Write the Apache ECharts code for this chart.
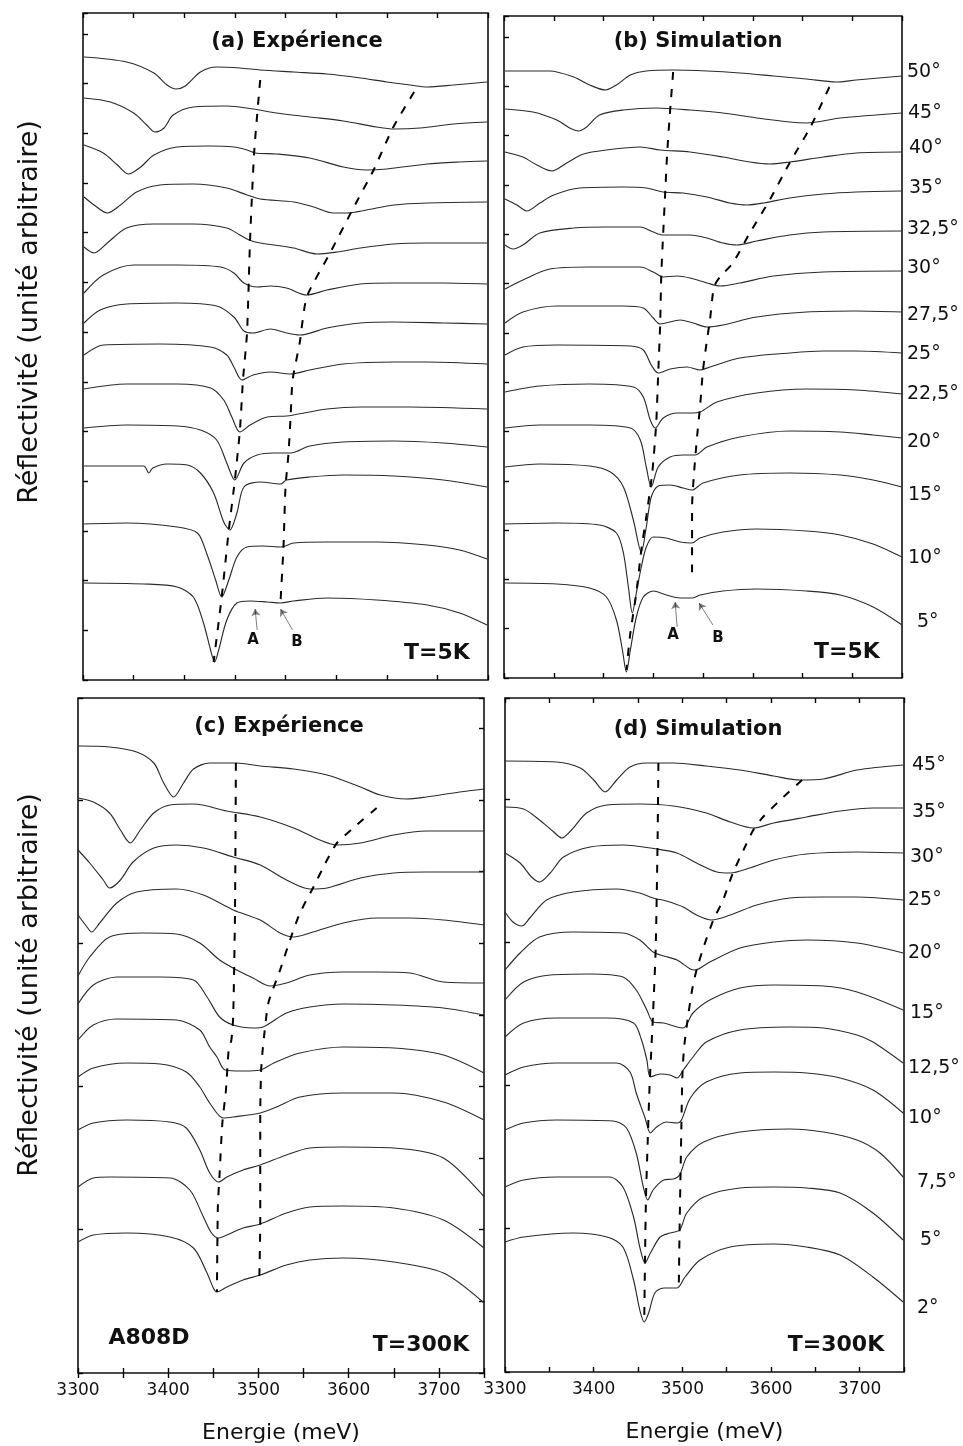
<!DOCTYPE html>
<html><head><meta charset="utf-8">
<script src="https://cdn.jsdelivr.net/npm/echarts@6/dist/echarts.min.js"></script>
<style>html,body{margin:0;padding:0;background:#fff}#chart{width:963px;height:1446px}</style>
</head><body><div id="chart"></div>
<script>
// ---------- Data: [energy (meV), reflectivity (arbitrary units, offset)] ----------
// Panel (a) Expérience, T=5K
const a50 = [[3301,623],[3343,618],[3370,607],[3383,595],[3392,591],[3401,594],[3416,608],[3432,613],[3455,612],[3475,610],[3508,608],[3541,606],[3574,602],[3600,598],[3623,595],[3640,593],[3666,595],[3699,598]];
const a45 = [[3301,582],[3327,578],[3350,567],[3363,555],[3371,548],[3380,552],[3389,565],[3409,573],[3442,574],[3468,571],[3491,567],[3524,563],[3557,559],[3590,553],[3607,551],[3633,552],[3666,556],[3699,558]];
const a40 = [[3301,535],[3320,527],[3334,515],[3345,506],[3357,513],[3370,525],[3393,533],[3426,534],[3449,533],[3462,530],[3470,527],[3491,526],[3524,522],[3557,513],[3580,510],[3600,511],[3640,516],[3672,518],[3699,519]];
const a35 = [[3301,483],[3311,475],[3324,467],[3337,475],[3353,488],[3376,495],[3409,496],[3442,492],[3462,485],[3475,481],[3508,478],[3528,473],[3547,467],[3561,467],[3580,470],[3607,475],[3640,477],[3699,478]];
const a32_5 = [[3301,433],[3311,427],[3324,437],[3343,452],[3370,456],[3409,456],[3442,452],[3455,445],[3464,440],[3475,437],[3508,432],[3531,426],[3551,428],[3574,432],[3607,436],[3640,437],[3699,437]];
const a30 = [[3301,387],[3320,405],[3350,415],[3393,415],[3436,413],[3449,407],[3459,397],[3472,393],[3485,394],[3501,392],[3521,385],[3541,390],[3574,396],[3607,397],[3656,397],[3699,396]];
const a27_5 = [[3301,357],[3317,370],[3343,376],[3393,377],[3432,374],[3449,363],[3459,349],[3468,347],[3485,351],[3501,347],[3514,345],[3541,352],[3574,357],[3607,358],[3656,357],[3699,356]];
const a25 = [[3301,325],[3320,335],[3376,336],[3426,333],[3442,325],[3449,313],[3457,300],[3468,305],[3485,308],[3505,306],[3524,310],[3557,316],[3607,318],[3640,318],[3699,316]];
const a22_5 = [[3301,291],[3343,296],[3393,296],[3426,292],[3439,280],[3447,263],[3455,248],[3465,255],[3482,263],[3501,264],[3508,265],[3541,271],[3574,273],[3623,273],[3699,271]];
const a20 = [[3301,252],[3343,255],[3393,254],[3416,250],[3432,240],[3442,217],[3450,200],[3459,217],[3472,225],[3488,227],[3505,227],[3524,234],[3557,238],[3607,239],[3656,237],[3699,233]];
const a15 = [[3301,214],[3360,214],[3365,207],[3369,212],[3383,216],[3403,215],[3416,207],[3429,187],[3439,158],[3445,150],[3452,167],[3459,193],[3475,198],[3495,196],[3501,200],[3524,203],[3557,205],[3607,204],[3656,200],[3699,193]];
const a10 = [[3301,156],[3343,157],[3393,153],[3413,147],[3422,127],[3431,100],[3437,83],[3444,100],[3452,123],[3462,133],[3478,134],[3496,133],[3508,137],[3541,138],[3590,138],[3640,135],[3672,130],[3699,121]];
const a5 = [[3301,97],[3360,96],[3393,93],[3409,83],[3419,57],[3426,30],[3430,18],[3434,30],[3442,60],[3452,77],[3465,79],[3482,78],[3495,77],[3508,79],[3541,82],[3590,80],[3640,75],[3672,67],[3699,55]];
const dashA_a = [[3475,600],[3469,527],[3465,440],[3462,347],[3458,300],[3455,250],[3450,200],[3444,150],[3437,83],[3429,18]];
const dashB_a = [[3627,588],[3606,552],[3587,510],[3567,472],[3544,427],[3521,383],[3514,337],[3507,300],[3505,263],[3503,227],[3500,193],[3498,133],[3495,77]];

// Panel (b) Simulation, T=5K
const b50 = [[3301,607],[3346,607],[3370,601],[3386,593],[3402,588],[3413,593],[3427,603],[3443,607],[3470,608],[3504,607],[3537,605],[3571,602],[3604,599],[3634,596],[3654,598],[3700,602]];
const b45 = [[3301,569],[3329,566],[3353,558],[3366,550],[3375,547],[3383,551],[3396,563],[3420,568],[3453,570],[3487,568],[3520,565],[3554,560],[3587,556],[3604,555],[3638,560],[3700,565]];
const b40 = [[3301,526],[3319,521],[3333,513],[3348,507],[3363,515],[3380,524],[3403,528],[3437,531],[3457,528],[3487,526],[3520,521],[3547,516],[3567,514],[3587,516],[3621,521],[3654,525],[3700,526]];
const b35 = [[3301,479],[3313,473],[3323,467],[3336,475],[3350,483],[3376,490],[3420,491],[3443,490],[3460,486],[3480,485],[3504,481],[3527,475],[3544,473],[3561,475],[3587,480],[3621,484],[3654,486],[3700,487]];
const b32_5 = [[3301,433],[3309,429],[3319,433],[3336,445],[3370,450],[3403,451],[3437,451],[3450,446],[3460,443],[3487,443],[3504,440],[3520,435],[3534,433],[3554,437],[3587,443],[3621,446],[3700,447]];
const b30 = [[3301,389],[3319,398],[3346,409],[3386,411],[3437,411],[3450,406],[3460,401],[3474,402],[3487,400],[3504,395],[3517,392],[3537,395],[3571,402],[3621,406],[3700,407]];
const b27_5 = [[3301,355],[3319,366],[3353,372],[3420,372],[3440,370],[3450,360],[3457,354],[3477,358],[3490,355],[3504,351],[3520,353],[3554,361],[3604,366],[3654,367],[3700,366]];
const b25 = [[3301,323],[3319,331],[3353,333],[3427,332],[3440,328],[3448,313],[3455,305],[3467,309],[3484,311],[3497,308],[3507,311],[3537,320],[3587,325],[3621,327],[3654,327],[3700,325]];
const b22_5 = [[3301,286],[3336,292],[3386,294],[3430,291],[3440,281],[3447,258],[3452,250],[3460,260],[3474,265],[3487,265],[3497,266],[3514,276],[3554,285],[3604,289],[3654,288],[3700,284]];
const b20 = [[3301,250],[3336,253],[3386,253],[3427,250],[3437,238],[3443,211],[3448,191],[3455,211],[3467,221],[3480,223],[3492,223],[3504,231],[3537,241],[3587,247],[3638,246],[3671,243],[3700,240]];
const b15 = [[3301,211],[3336,214],[3386,212],[3407,206],[3420,191],[3430,158],[3438,126],[3443,151],[3448,181],[3455,192],[3467,193],[3480,190],[3489,188],[3500,195],[3537,203],[3587,205],[3638,203],[3671,198],[3700,191]];
const b10 = [[3301,154],[3353,155],[3396,153],[3413,145],[3420,125],[3425,91],[3429,65],[3433,85],[3438,111],[3443,131],[3450,141],[3463,140],[3477,136],[3489,135],[3497,140],[3520,146],[3554,149],[3604,147],[3638,143],[3671,134],[3700,121]];
const b5 = [[3301,95],[3353,94],[3386,90],[3403,81],[3413,58],[3419,28],[3423,6],[3427,28],[3433,61],[3440,81],[3450,87],[3463,83],[3477,80],[3489,80],[3497,83],[3520,87],[3554,89],[3604,87],[3638,83],[3671,71],[3700,53]];
const dashA_b = [[3470,606],[3467,568],[3464,525],[3462,485],[3460,445],[3458,401],[3457,355],[3455,305],[3453,255],[3449,205],[3443,161],[3438,128],[3433,85],[3427,45],[3423,8]];
const dashB_b = [[3627,591],[3608,551],[3587,515],[3567,478],[3547,445],[3530,415],[3517,401],[3511,391],[3507,358],[3504,338],[3500,308],[3497,271],[3494,241],[3491,205],[3489,171],[3489,98]];

// Panel (c) Expérience, T=300K
const c45 = [[3300,627],[3335,626],[3365,621],[3384,610],[3395,590],[3406,576],[3417,590],[3428,604],[3446,610],[3476,610],[3502,607],[3539,604],[3576,598],[3613,586],[3635,578],[3664,574],[3686,576],[3723,581],[3750,584]];
const c35 = [[3300,575],[3317,571],[3335,560],[3347,543],[3358,530],[3369,543],[3384,560],[3402,568],[3428,569],[3465,562],[3502,556],[3539,545],[3568,533],[3587,528],[3613,530],[3650,538],[3686,542],[3750,542]];
const c30 = [[3300,523],[3313,510],[3328,493],[3335,485],[3347,493],[3361,511],[3384,525],[3409,528],[3439,525],[3472,516],[3502,508],[3531,493],[3557,484],[3576,485],[3613,495],[3650,500],[3686,501],[3750,501]];
const c25 = [[3300,458],[3310,446],[3315,441],[3324,450],[3343,470],[3365,481],[3409,484],[3439,478],[3472,463],[3502,453],[3524,440],[3539,436],[3557,440],[3594,450],[3631,455],[3668,455],[3705,453],[3750,448]];
const c20 = [[3300,397],[3313,416],[3335,436],[3372,440],[3409,439],[3435,430],[3457,413],[3476,403],[3494,395],[3513,387],[3531,390],[3557,398],[3594,401],[3631,401],[3668,400],[3705,391],[3750,390]];
const c15 = [[3300,369],[3317,388],[3343,396],[3391,396],[3428,393],[3443,376],[3457,356],[3472,348],[3494,345],[3505,346],[3531,360],[3557,366],[3594,369],[3650,368],[3705,365],[3750,358]];
const c12_5 = [[3300,333],[3317,348],[3343,354],[3409,353],[3435,343],[3446,326],[3454,316],[3463,303],[3483,302],[3502,303],[3517,310],[3546,320],[3594,326],[3650,325],[3705,318],[3750,300]];
const c10 = [[3300,296],[3317,305],[3354,310],[3391,309],[3420,301],[3435,286],[3446,270],[3461,255],[3472,256],[3502,260],[3520,266],[3546,276],[3594,280],[3650,280],[3705,271],[3750,253]];
const c7_5 = [[3300,243],[3317,250],[3354,253],[3402,251],[3420,245],[3435,223],[3446,200],[3456,191],[3465,196],[3483,203],[3502,208],[3531,218],[3557,225],[3594,226],[3650,225],[3705,215],[3750,176]];
const c5 = [[3300,186],[3317,195],[3335,196],[3402,195],[3424,183],[3439,156],[3448,140],[3456,135],[3465,138],[3483,145],[3502,149],[3531,160],[3557,166],[3594,167],[3650,165],[3705,153],[3750,125]];
const c2 = [[3300,131],[3317,138],[3354,140],[3402,136],[3428,125],[3443,100],[3450,85],[3454,81],[3465,86],[3483,93],[3502,98],[3531,108],[3557,113],[3594,115],[3650,111],[3705,100],[3750,70]];
const dashA_c = [[3475,610],[3474,460],[3472,356],[3470,333],[3467,323],[3464,283],[3460,250],[3457,200],[3455,166],[3454,81]];
const dashB_c = [[3631,565],[3605,545],[3587,530],[3576,513],[3561,486],[3546,460],[3535,433],[3524,403],[3511,370],[3505,326],[3503,303],[3502,260],[3502,150],[3501,96]];

// Panel (d) Simulation, T=300K
const d45 = [[3300,611],[3358,610],[3385,604],[3400,592],[3413,580],[3426,592],[3441,605],[3460,609],[3490,609],[3527,606],[3565,602],[3603,596],[3633,592],[3659,593],[3697,602],[3749,607]];
const d35 = [[3300,565],[3321,563],[3339,552],[3355,540],[3364,534],[3375,542],[3392,559],[3415,567],[3452,568],[3490,566],[3527,559],[3554,550],[3580,544],[3603,549],[3640,555],[3678,561],[3715,564],[3749,564]];
const d30 = [[3300,519],[3317,509],[3330,495],[3339,490],[3351,499],[3366,515],[3396,525],[3433,527],[3471,523],[3494,519],[3516,509],[3539,500],[3554,499],[3576,504],[3603,512],[3640,518],[3697,520],[3749,519]];
const d25 = [[3300,460],[3309,450],[3319,446],[3328,454],[3347,472],[3377,480],[3426,483],[3452,479],[3467,474],[3482,471],[3501,465],[3516,457],[3533,452],[3554,457],[3584,467],[3621,474],[3659,475],[3697,475],[3749,472]];
const d20 = [[3300,402],[3317,419],[3339,435],[3377,440],[3433,439],[3452,432],[3467,420],[3479,416],[3494,412],[3509,403],[3514,402],[3531,410],[3565,424],[3603,430],[3640,432],[3697,429],[3749,419]];
const d15 = [[3300,372],[3321,390],[3351,397],[3396,398],[3433,395],[3448,382],[3460,362],[3467,350],[3479,349],[3494,345],[3501,344],[3512,359],[3531,372],[3565,384],[3603,387],[3659,386],[3697,380],[3749,362]];
const d12_5 = [[3300,335],[3321,349],[3358,354],[3415,354],[3445,349],[3454,332],[3460,312],[3464,295],[3475,298],[3486,297],[3494,294],[3501,302],[3512,315],[3527,330],[3565,342],[3621,345],[3659,344],[3697,337],[3715,330],[3749,309]];
const d10 = [[3300,297],[3321,305],[3358,309],[3426,309],[3441,300],[3448,279],[3458,254],[3464,239],[3471,245],[3482,250],[3494,249],[3499,252],[3509,274],[3527,290],[3565,299],[3603,300],[3640,299],[3678,294],[3715,282],[3749,259]];
const d7_5 = [[3300,242],[3321,249],[3358,252],[3422,251],[3437,244],[3448,219],[3456,185],[3461,172],[3467,182],[3479,192],[3490,193],[3497,197],[3505,215],[3524,230],[3565,240],[3621,243],[3659,240],[3697,232],[3723,219],[3749,195]];
const d5 = [[3300,185],[3321,192],[3358,195],[3418,195],[3433,185],[3445,155],[3452,125],[3458,109],[3464,119],[3475,135],[3486,139],[3497,142],[3505,159],[3524,175],[3565,184],[3603,185],[3640,184],[3678,179],[3715,159],[3749,132]];
const d2 = [[3300,130],[3321,135],[3377,139],[3415,135],[3433,125],[3445,92],[3452,62],[3457,50],[3462,59],[3469,79],[3479,84],[3494,84],[3503,95],[3520,112],[3554,125],[3603,128],[3640,125],[3678,117],[3715,95],[3749,70]];
const dashA_d = [[3473,609],[3472,525],[3470,425],[3467,359],[3465,322],[3463,285],[3461,232],[3459,175],[3458,119],[3457,50]];
const dashB_d = [[3635,592],[3614,575],[3591,555],[3580,542],[3569,522],[3557,499],[3546,472],[3535,452],[3524,425],[3516,402],[3511,382],[3507,359],[3502,325],[3500,295],[3499,249],[3498,199],[3497,149],[3496,85]];

// Arrows pointing at modes A and B (5K panels)
const arrowA_a = [[3472,50],[3470,71]];
const arrowB_a = [[3507,50],[3495,71]];
const arrowA_b = [[3474,51],[3472,76]];
const arrowB_b = [[3510,53],[3496,75]];

// Angle labels
const anglesB = ['50°','45°','40°','35°','32,5°','30°','27,5°','25°','22,5°','20°','15°','10°','5°'];
const anglesD = ['45°','35°','30°','25°','20°','15°','12,5°','10°','7,5°','5°','2°'];

// ---------- Chart ----------
const FONT = '"DejaVu Sans", "Liberation Sans", sans-serif';
const panels = [
  {left:83, top:13, width:405, height:667, xMin:3300, xMax:3700, yMax:667, yInt:49.7, labels:false,
   curves:[a50,a45,a40,a35,a32_5,a30,a27_5,a25,a22_5,a20,a15,a10,a5], dashes:[dashA_a,dashB_a], arrows:[arrowA_a,arrowB_a]},
  {left:504, top:16, width:398, height:662, xMin:3300, xMax:3700, yMax:662, yInt:49.3, labels:false,
   curves:[b50,b45,b40,b35,b32_5,b30,b27_5,b25,b22_5,b20,b15,b10,b5], dashes:[dashA_b,dashB_b], arrows:[arrowA_b,arrowB_b]},
  {left:78, top:698, width:406, height:675, xMin:3300, xMax:3750, yMax:675, yInt:143.3, yIntRight:71.65, labels:true,
   curves:[c45,c35,c30,c25,c20,c15,c12_5,c10,c7_5,c5,c2], dashes:[dashA_c,dashB_c], arrows:[]},
  {left:505, top:698, width:399, height:674, xMin:3300, xMax:3750, yMax:674, yInt:143.3, labels:true,
   curves:[d45,d35,d30,d25,d20,d15,d12_5,d10,d7_5,d5,d2], dashes:[dashA_d,dashB_d], arrows:[]}
];

const grids = [], xAxes = [], yAxes = [], series = [];
const tick = {show:true, inside:true, length:5, lineStyle:{color:'#000', width:1.4}};
panels.forEach((p, gi) => {
  grids.push({left:p.left, top:p.top, width:p.width, height:p.height, show:true,
    borderColor:'#111', borderWidth:1.6, backgroundColor:'rgba(0,0,0,0)'});
  const xb = xAxes.length;
  xAxes.push({type:'value', gridIndex:gi, position:'bottom', min:p.xMin, max:p.xMax, interval:50,
    axisLine:{show:false}, axisTick:tick, splitLine:{show:false},
    axisLabel:{show:p.labels, interval:0, hideOverlap:false, showMinLabel:true, showMaxLabel:true,
      formatter:v => (v % 100 === 0 ? String(v) : ''), fontFamily:FONT, fontSize:17, color:'#111', margin:9},
    name:p.labels ? 'Energie (meV)' : '', nameLocation:'middle', nameGap:49,
    nameTextStyle:{fontFamily:FONT, fontSize:22, color:'#111'}});
  xAxes.push({type:'value', gridIndex:gi, position:'top', min:p.xMin, max:p.xMax, interval:50,
    axisLine:{show:false}, axisTick:tick, splitLine:{show:false}, axisLabel:{show:false}});
  const yl = yAxes.length;
  yAxes.push({type:'value', gridIndex:gi, position:'left', min:0, max:p.yMax, interval:p.yInt,
    axisLine:{show:false}, axisTick:tick, splitLine:{show:false}, axisLabel:{show:false}});
  if (p.yIntRight) {
    yAxes.push({type:'value', gridIndex:gi, position:'right', min:0, max:p.yMax, interval:p.yIntRight,
      axisLine:{show:false}, axisTick:tick, splitLine:{show:false}, axisLabel:{show:false}});
  }
  p.curves.forEach(c => series.push({type:'line', xAxisIndex:xb, yAxisIndex:yl, data:c,
    symbol:'none', smooth:0.3, silent:true, lineStyle:{color:'#2b2b2b', width:1.15}, z:2}));
  p.dashes.forEach(c => series.push({type:'line', xAxisIndex:xb, yAxisIndex:yl, data:c,
    symbol:'none', smooth:0.2, silent:true, lineStyle:{color:'#000', width:2, type:[8,9]}, z:3}));
  if (p.arrows.length) {
    series.push({type:'lines', coordinateSystem:'cartesian2d', xAxisIndex:xb, yAxisIndex:yl,
      symbol:['none','arrow'], symbolSize:7, silent:true,
      lineStyle:{color:'#000', width:1, curveness:0},
      data:p.arrows.map(a => ({coords:a}))});
  }
});

function txt(text, x, y, font, align) {
  return {type:'text', x:x, y:y, silent:true,
    style:{text:text, font:font, fill:'#111', textAlign:align || 'center', textVerticalAlign:'middle', verticalAlign:'middle'}};
}
const BOLD = 'bold 21px ' + FONT;
const BIG = 'bold 22px ' + FONT;
const graphics = [
  txt('(a) Expérience', 297, 42, BOLD), txt('(b) Simulation', 698, 42, BOLD),
  txt('(c) Expérience', 279, 727, BOLD), txt('(d) Simulation', 698, 730, BOLD),
  txt('T=5K', 437, 653, BIG), txt('T=5K', 847, 652, BIG),
  txt('T=300K', 421, 1345, BIG), txt('T=300K', 836, 1345, BIG),
  txt('A808D', 149, 1338, BIG),
  txt('A', 253, 640, 'bold 15px ' + FONT), txt('B', 297, 642, 'bold 15px ' + FONT),
  txt('A', 673, 635, 'bold 15px ' + FONT), txt('B', 718, 638, 'bold 15px ' + FONT),
  {type:'text', x:30, y:312, rotation:Math.PI/2, silent:true,
   style:{text:'Réflectivité (unité arbitraire)', font:'27px ' + FONT, fill:'#111', textAlign:'center', textVerticalAlign:'middle', verticalAlign:'middle'}},
  {type:'text', x:30, y:985, rotation:Math.PI/2, silent:true,
   style:{text:'Réflectivité (unité arbitraire)', font:'27px ' + FONT, fill:'#111', textAlign:'center', textVerticalAlign:'middle', verticalAlign:'middle'}}
];
const posB = [[907,72],[908,113],[909,148],[909,188],[907,229],[907,268],[907,315],[907,354],[907,394],[907,442],[908,495],[908,558],[917,622]];
const posD = [[912,765],[912,812],[910,857],[908,900],[908,953],[910,1013],[908,1068],[908,1118],[917,1182],[920,1240],[917,1308]];
anglesB.forEach((t, i) => graphics.push(txt(t, posB[i][0], posB[i][1], '19px ' + FONT, 'left')));
anglesD.forEach((t, i) => graphics.push(txt(t, posD[i][0], posD[i][1], '19px ' + FONT, 'left')));

const chart = echarts.init(document.getElementById('chart'), null, {renderer:'canvas'});
chart.setOption({
  animation:false,
  backgroundColor:'#fff',
  grid:grids, xAxis:xAxes, yAxis:yAxes, series:series, graphic:graphics
});
</script>
</body></html>
